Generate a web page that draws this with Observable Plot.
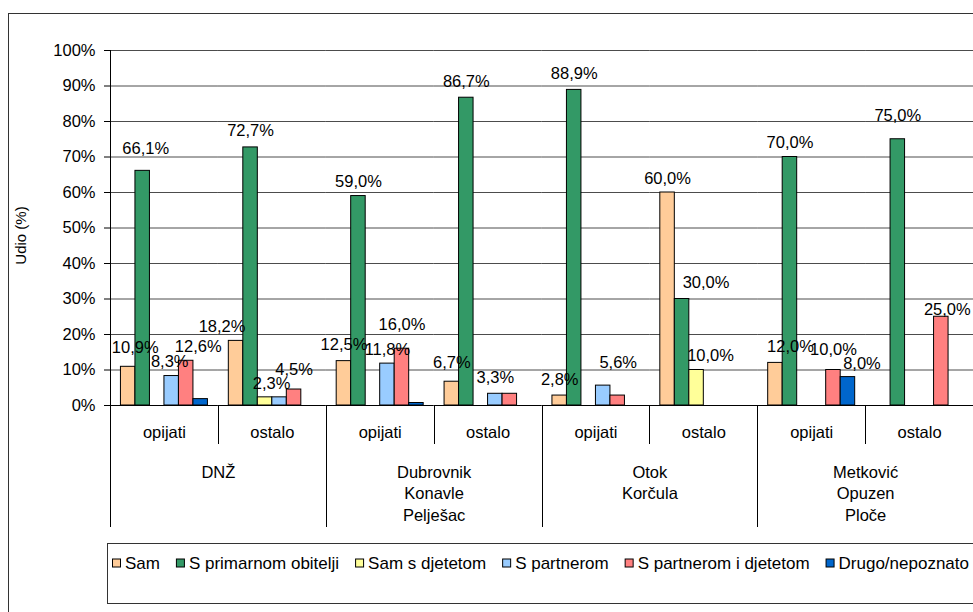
<!DOCTYPE html>
<html>
<head>
<meta charset="utf-8">
<script src="https://cdn.jsdelivr.net/npm/d3@7"></script>
<script src="https://cdn.jsdelivr.net/npm/@observablehq/plot@0.6"></script>
<style>
  html, body { margin: 0; padding: 0; background: #fff; overflow: hidden; }
  #chart svg { display: block; }
</style>
</head>
<body>
<div id="chart"></div>
<script>
// ---------- data ----------
const series = ["Sam", "S primarnom obitelji", "Sam s djetetom", "S partnerom", "S partnerom i djetetom", "Drugo/nepoznato"];
const colors = ["#FFCC99", "#339966", "#FFFF99", "#99CCFF", "#FF8080", "#0066CC"];
const regions = ["DNŽ", "Dubrovnik\nKonavle\nPelješac", "Otok\nKorčula", "Metković\nOpuzen\nPloče"];
const subcats = ["opijati", "ostalo"];
// values per slot: DNŽ opijati, DNŽ ostalo, Dubrovnik opijati, Dubrovnik ostalo, Otok opijati, Otok ostalo, Metković opijati, Metković ostalo
const sam           = [10.9, 18.2, 12.5,  6.7,  2.8, 60.0, 12.0,  0];
const primarna      = [66.1, 72.7, 59.0, 86.7, 88.9, 30.0, 70.0, 75.0];
const samDijete     = [0,     2.3,  0,    0,    0,   10.0,  0,    0];
const partner       = [8.3,   2.3, 11.8,  3.3,  5.6,  0,    0,    0];
const partnerDijete = [12.6,  4.5, 16.0,  3.3,  2.8,  0,   10.0, 25.0];
const drugo         = [1.8,   0,    0.7,  0,    0,    0,    8.0,  0];
const yTicks = [0, 10, 20, 30, 40, 50, 60, 70, 80, 90, 100];
const yTitle = "Udio (%)";
// value labels that are not shown in the reference: [series index, slot index]
const hiddenLabels = [[5, 0], [2, 1], [5, 2], [4, 3], [4, 4]];
// hand-placed label nudges seen in the reference (px): [series index, slot index, dx, dy]
const labelNudges = [
  [0, 0, 7, -3], [1, 0, 3, -6], [3, 0, -2, 2], [4, 0, 12, 2],
  [0, 1, -14, 2], [3, 1, -8, 3], [4, 1, 0, -4],
  [4, 2, 0, -8], [3, 2, 0, 2], [1, 2, 0, 2],
  [0, 3, 0, -3],
  [3, 4, 15, -7],
  [1, 5, 24, 0], [2, 5, 14, 2], [0, 5, 0, 2],
  [0, 6, 15, 0], [4, 6, 0, -4], [5, 6, 14, 3], [1, 6, 0, 2],
  [1, 7, 0, -7], [4, 7, 6, 9]
];

// ---------- build table ----------
const valueSets = [sam, primarna, samDijete, partner, partnerDijete, drugo];
const slots = regions.flatMap(r => subcats.map(s => r + "|" + s));
const rows = [];
valueSets.forEach((vals, si) => vals.forEach((v, k) => {
  const n = labelNudges.find(([a, b]) => a === si && b === k);
  rows.push({
    series: series[si], slot: slots[k], value: v,
    show: v > 0 && !hiddenLabels.some(([a, b]) => a === si && b === k),
    ndx: n ? n[2] : 0, ndy: n ? n[3] : 0
  });
}));
const slotRows = slots.map((s, k) => ({slot: s, sub: subcats[k % 2]}));
const groupRows = regions.map((r, g) => ({slot: slots[g * 2], region: r}));
const fmt = v => v.toFixed(1).replace(".", ",") + "%";

const W = 973, H = 612;
const FONT = "'Liberation Sans', Arial, Helvetica, sans-serif";
const FS = 16.5;

const labelMarks = rows.filter(d => d.show).map(d =>
  Plot.text([d], {fx: "slot", x: "series", y: "value", text: r => fmt(r.value), lineAnchor: "bottom",
    dx: d.ndx, dy: -11 + d.ndy, fill: "#000", fontSize: FS}));

const plot = Plot.plot({
  width: W, height: H,
  marginLeft: 110, marginRight: 0, marginTop: 50, marginBottom: 207,
  style: {fontFamily: FONT, fontSize: FS + "px", background: "transparent", color: "#000", overflow: "visible"},
  fx: {domain: slots, padding: 0, round: false, axis: null},
  x: {domain: series, paddingInner: 0, paddingOuter: 0.72, round: false, axis: null},
  y: {domain: [0, 100], axis: null},
  color: {domain: series, range: colors},
  marks: [
    Plot.ruleY(yTicks.filter(d => d > 0), {stroke: "#000", strokeOpacity: 0.7, strokeWidth: 1}),
    Plot.axisY(yTicks, {tickFormat: d => d + "%", tickSize: 6, tickPadding: 9, fontSize: FS, stroke: "#000", label: null}),
    Plot.barY(rows.filter(d => d.value > 0), {fx: "slot", x: "series", y: "value", fill: "series", stroke: "#000", strokeWidth: 1}),
    Plot.ruleY([0], {stroke: "#000", strokeWidth: 1}),
    ...labelMarks,
    Plot.text(slotRows, {fx: "slot", text: "sub", frameAnchor: "bottom", lineAnchor: "middle", dy: 27, fill: "#000", fontSize: FS}),
    Plot.text(groupRows, {fx: "slot", text: "region", frameAnchor: "bottom-right", textAnchor: "middle", lineAnchor: "top", lineHeight: 1.3, dy: 57, fill: "#000", fontSize: FS})
  ]
});
document.getElementById("chart").appendChild(plot);

// ---------- decorations drawn from the library's scales ----------
const svg = d3.select(plot);
const fx = plot.scale("fx"), y = plot.scale("y");
const y0 = y.apply(0), yTop = y.apply(100);
const subBottom = y0 + 39, groupBottom = y0 + 122;
const deco = svg.append("g").attr("stroke", "#000").attr("stroke-width", 1).attr("fill", "none");
// outer chart border
deco.append("rect").attr("x", 8.5).attr("y", 13.5).attr("width", W + 20).attr("height", H + 20).attr("stroke", "#333");
// value axis line
const xLeft = Math.round(fx.apply(slots[0])) + 0.5;
deco.append("line").attr("x1", xLeft).attr("x2", xLeft).attr("y1", yTop).attr("y2", groupBottom);
// category dividers
slots.forEach((s, k) => {
  if (k === 0) return;
  const xx = Math.round(fx.apply(s)) + 0.5;
  deco.append("line").attr("x1", xx).attr("x2", xx).attr("y1", y0).attr("y2", k % 2 === 0 ? groupBottom : subBottom);
});

// axis title
svg.append("text").text(yTitle)
  .attr("transform", `translate(26, ${(y0 + yTop) / 2 + 8}) rotate(-90)`)
  .attr("text-anchor", "middle").attr("font-family", FONT).attr("font-size", 15).attr("fill", "#000");

// legend
const LFS = 17;
const ctx = document.createElement("canvas").getContext("2d");
ctx.font = `${LFS}px 'Liberation Sans', Arial, sans-serif`;
const lg = svg.append("g").attr("font-family", FONT).attr("font-size", LFS).attr("text-anchor", "start");
lg.append("rect").attr("x", 107.5).attr("y", 543.5).attr("width", W).attr("height", 60).attr("fill", "#fff").attr("stroke", "#333");
const TX = 13;
const items = series.map((s, i) => {
  const g = lg.append("g");
  g.append("rect").attr("x", 0.5).attr("width", 8).attr("height", 8).attr("y", -9.5).attr("fill", colors[i]).attr("stroke", "#000");
  g.append("text").text(s).attr("x", TX).attr("text-anchor", "start").attr("fill", "#000");
  return {g, w: ctx.measureText(s).width};
});
const legStart = 112, legEnd = 969;
const total = d3.sum(items, d => d.w + TX);
const gap = Math.max(4, (legEnd - legStart - total) / (items.length - 1));
let cx = legStart;
items.forEach(d => { d.g.attr("transform", `translate(${cx}, 568.5)`); cx += d.w + TX + gap; });
</script>
</body>
</html>
